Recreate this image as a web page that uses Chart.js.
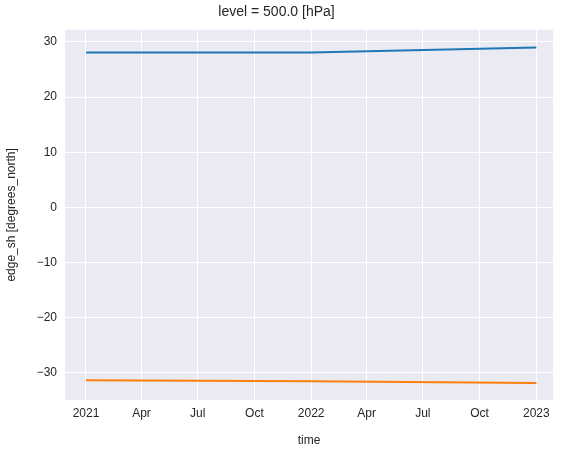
<!DOCTYPE html>
<html><head><meta charset="utf-8">
<script src="https://cdn.jsdelivr.net/npm/chart.js@4"></script>
<style>html,body{margin:0;padding:0;background:#fff}</style>
</head><body>
<canvas id="c" width="568" height="452"></canvas>
<script>
const dayOffsets = [0, 365, 730]; // days since 2021-01-01
const seriesBlue = [28.1, 28.1, 29.0];
const seriesOrange = [-31.3, -31.5, -31.8];
const xTickDays = [0, 90, 181, 273, 365, 455, 546, 638, 730];
const xTickLabels = ['2021','Apr','Jul','Oct','2022','Apr','Jul','Oct','2023'];
const yTicks = [-30, -20, -10, 0, 10, 20, 30];

const bgPlugin = {
  id: 'bg',
  beforeDraw(chart) {
    const {ctx, chartArea: a} = chart;
    ctx.save(); ctx.fillStyle = '#EAEAF2';
    ctx.fillRect(a.left, a.top, a.right - a.left, a.bottom - a.top);
    ctx.restore();
  }
};
const font = {family: '"Liberation Sans", Arial, sans-serif', size: 12};
new Chart(document.getElementById('c'), {
  type: 'line',
  data: {
    datasets: [
      {data: dayOffsets.map((d,i)=>({x:d,y:seriesBlue[i]})), borderColor:'#1f77b4', borderWidth:2, pointRadius:0, tension:0},
      {data: dayOffsets.map((d,i)=>({x:d,y:seriesOrange[i]})), borderColor:'#ff7f0e', borderWidth:2, pointRadius:0, tension:0}
    ]
  },
  options: {
    responsive:false, animation:false,
    layout:{padding:{top:1,right:15,left:0,bottom:0}},
    plugins:{
      legend:{display:false}, tooltip:{enabled:false},
      title:{display:true, text:'level = 500.0 [hPa]', color:'#262626',
        font:{family:font.family,size:14,weight:'normal'}, padding:{top:3,bottom:9}}
    },
    scales:{
      x:{type:'linear', min:-34, max:757,
        afterBuildTicks(s){ s.ticks = xTickDays.map(v=>({value:v})); },
        afterFit(s){ s.height = 52; },
        ticks:{color:'#262626', font, maxRotation:0, autoSkip:false, padding:6,
          callback:(v)=>{const i=xTickDays.indexOf(v); return i>=0?xTickLabels[i]:'';}},
        grid:{color:'#ffffff', lineWidth:1, drawTicks:false},
        border:{display:false},
        title:{display:true, text:'time', color:'#262626', font, padding:{top:0}}
      },
      y:{min:-34.9, max:32.2,
        afterBuildTicks(s){ s.ticks = yTicks.map(v=>({value:v})); },
        afterFit(s){ s.width = 65; },
        ticks:{color:'#262626', font, padding:8,
          callback:(v)=> v < 0 ? '\u2212' + Math.abs(v) : String(v)},
        grid:{color:'#ffffff', lineWidth:1, drawTicks:false},
        border:{display:false},
        title:{display:true, text:'edge_sh [degrees_north]', color:'#262626', font, padding:{bottom:2}}
      }
    }
  },
  plugins:[bgPlugin]
});
</script>
</body></html>
